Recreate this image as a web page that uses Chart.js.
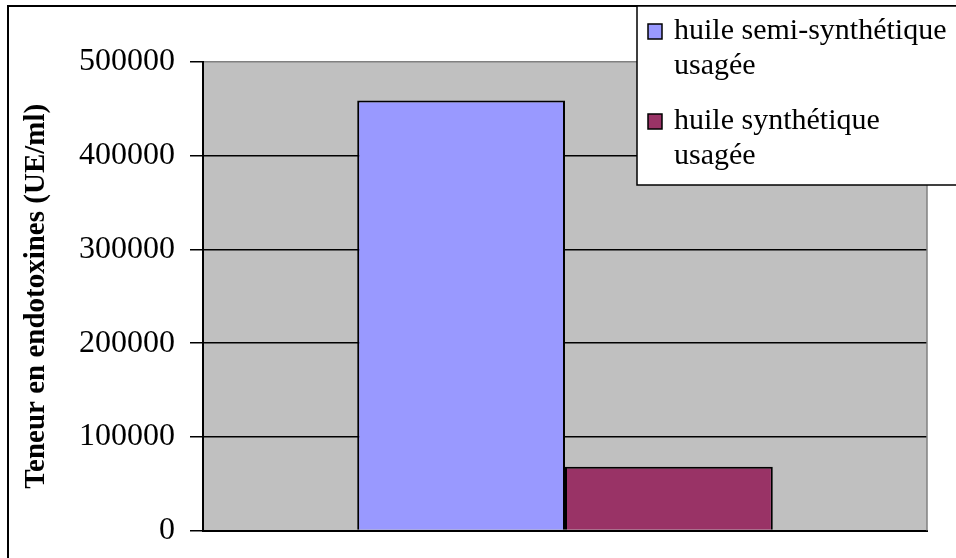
<!DOCTYPE html>
<html>
<head>
<meta charset="utf-8">
<script src="https://cdn.jsdelivr.net/npm/chart.js@4"></script>
<style>
  html, body { margin: 0; padding: 0; background: #fff; }
  #wrap { width: 956px; height: 558px; }
</style>
</head>
<body>
<div id="wrap"><canvas id="c" width="956" height="558"></canvas></div>
<script>
// ---- data ----
const categories = [''];
const seriesNames = ['huile semi-synthétique usagée', 'huile synthétique usagée'];
const seriesLegendLines = [['huile semi-synthétique', 'usagée'], ['huile synthétique', 'usagée']];
const semiSyntheticValues = [459000];
const syntheticValues = [68000];
const yTickValues = [0, 100000, 200000, 300000, 400000, 500000];
const yAxisTitle = 'Teneur en endotoxines (UE/ml)';
const seriesColors = ['#9999FF', '#993366'];

const SERIF = '"Liberation Serif", "Times New Roman", serif';

const plotBackground = {
  id: 'plotBackground',
  beforeDraw(chart) {
    const { ctx, chartArea: a } = chart;
    ctx.save();
    ctx.fillStyle = '#C0C0C0';
    ctx.fillRect(a.left, a.top, a.right - a.left, a.bottom - a.top);
    ctx.restore();
  },
  beforeDatasetsDraw(chart) {
    const { ctx, chartArea: a } = chart;
    ctx.save();
    ctx.strokeStyle = '#808080';
    ctx.lineWidth = 1.5;
    ctx.beginPath();
    ctx.moveTo(a.right, a.top);
    ctx.lineTo(a.right, a.bottom);
    ctx.stroke();
    ctx.restore();
  }
};

const boxedLegend = {
  id: 'boxedLegend',
  afterDraw(chart) {
    const ctx = chart.ctx;
    ctx.save();
    // outer frame (top and left edges visible)
    ctx.strokeStyle = '#000';
    ctx.lineWidth = 2;
    ctx.beginPath();
    ctx.moveTo(8, 560);
    ctx.lineTo(8, 6);
    ctx.lineTo(960, 6);
    ctx.stroke();
    // legend box
    ctx.fillStyle = '#fff';
    ctx.fillRect(637, 6, 330, 179);
    ctx.lineWidth = 1.5;
    ctx.strokeRect(637, 6, 330, 179);
    ctx.font = '30px ' + SERIF;
    ctx.textBaseline = 'alphabetic';
    ctx.textAlign = 'left';
    let baseline = 39;
    chart.data.datasets.forEach((ds, i) => {
      ctx.fillStyle = ds.backgroundColor;
      ctx.fillRect(648, baseline - 15, 14, 15);
      ctx.strokeStyle = '#000';
      ctx.lineWidth = 1.5;
      ctx.strokeRect(648, baseline - 15, 14, 15);
      ctx.fillStyle = '#000';
      seriesLegendLines[i].forEach((ln, j) => ctx.fillText(ln, 674, baseline + j * 35));
      baseline += 90;
    });
    ctx.restore();
  }
};

new Chart(document.getElementById('c'), {
  type: 'bar',
  data: {
    labels: categories,
    datasets: [
      { label: seriesNames[0], data: semiSyntheticValues, backgroundColor: seriesColors[0], borderColor: '#000', borderWidth: 2 },
      { label: seriesNames[1], data: syntheticValues, backgroundColor: seriesColors[1], borderColor: '#000', borderWidth: 2 }
    ]
  },
  options: {
    responsive: false,
    animation: false,
    devicePixelRatio: 1,
    layout: { padding: { left: 0, top: 62, right: 29, bottom: 27.5 } },
    datasets: { bar: { categoryPercentage: 0.574, barPercentage: 1.0 } },
    plugins: {
      legend: { display: false },
      tooltip: { enabled: false },
      title: { display: false }
    },
    scales: {
      x: {
        grid: { display: false, drawTicks: false, tickLength: 0 },
        ticks: { display: false },
        border: { display: true, color: '#000', width: 2 }
      },
      y: {
        min: 0,
        max: 500000,
        afterBuildTicks(scale) { scale.ticks = yTickValues.map(v => ({ value: v })); },
        afterFit(scale) { scale.width = 203; scale.paddingTop = 0; scale.paddingBottom = 0; },
        grid: {
          color: ctx => (ctx.tick && ctx.tick.value === 500000) ? '#808080' : '#000',
          tickColor: '#000',
          lineWidth: 1.5,
          tickLength: 13,
          drawTicks: true
        },
        border: { display: true, color: '#000', width: 2 },
        ticks: {
          color: '#000',
          padding: 15,
          font: { family: SERIF, size: 32 },
          callback: v => String(v)
        },
        title: {
          display: true,
          text: yAxisTitle,
          color: '#000',
          font: { family: SERIF, size: 29, weight: 'bold' },
          padding: { top: 19, bottom: 0 }
        }
      }
    }
  },
  plugins: [plotBackground, boxedLegend]
});
</script>
</body>
</html>
